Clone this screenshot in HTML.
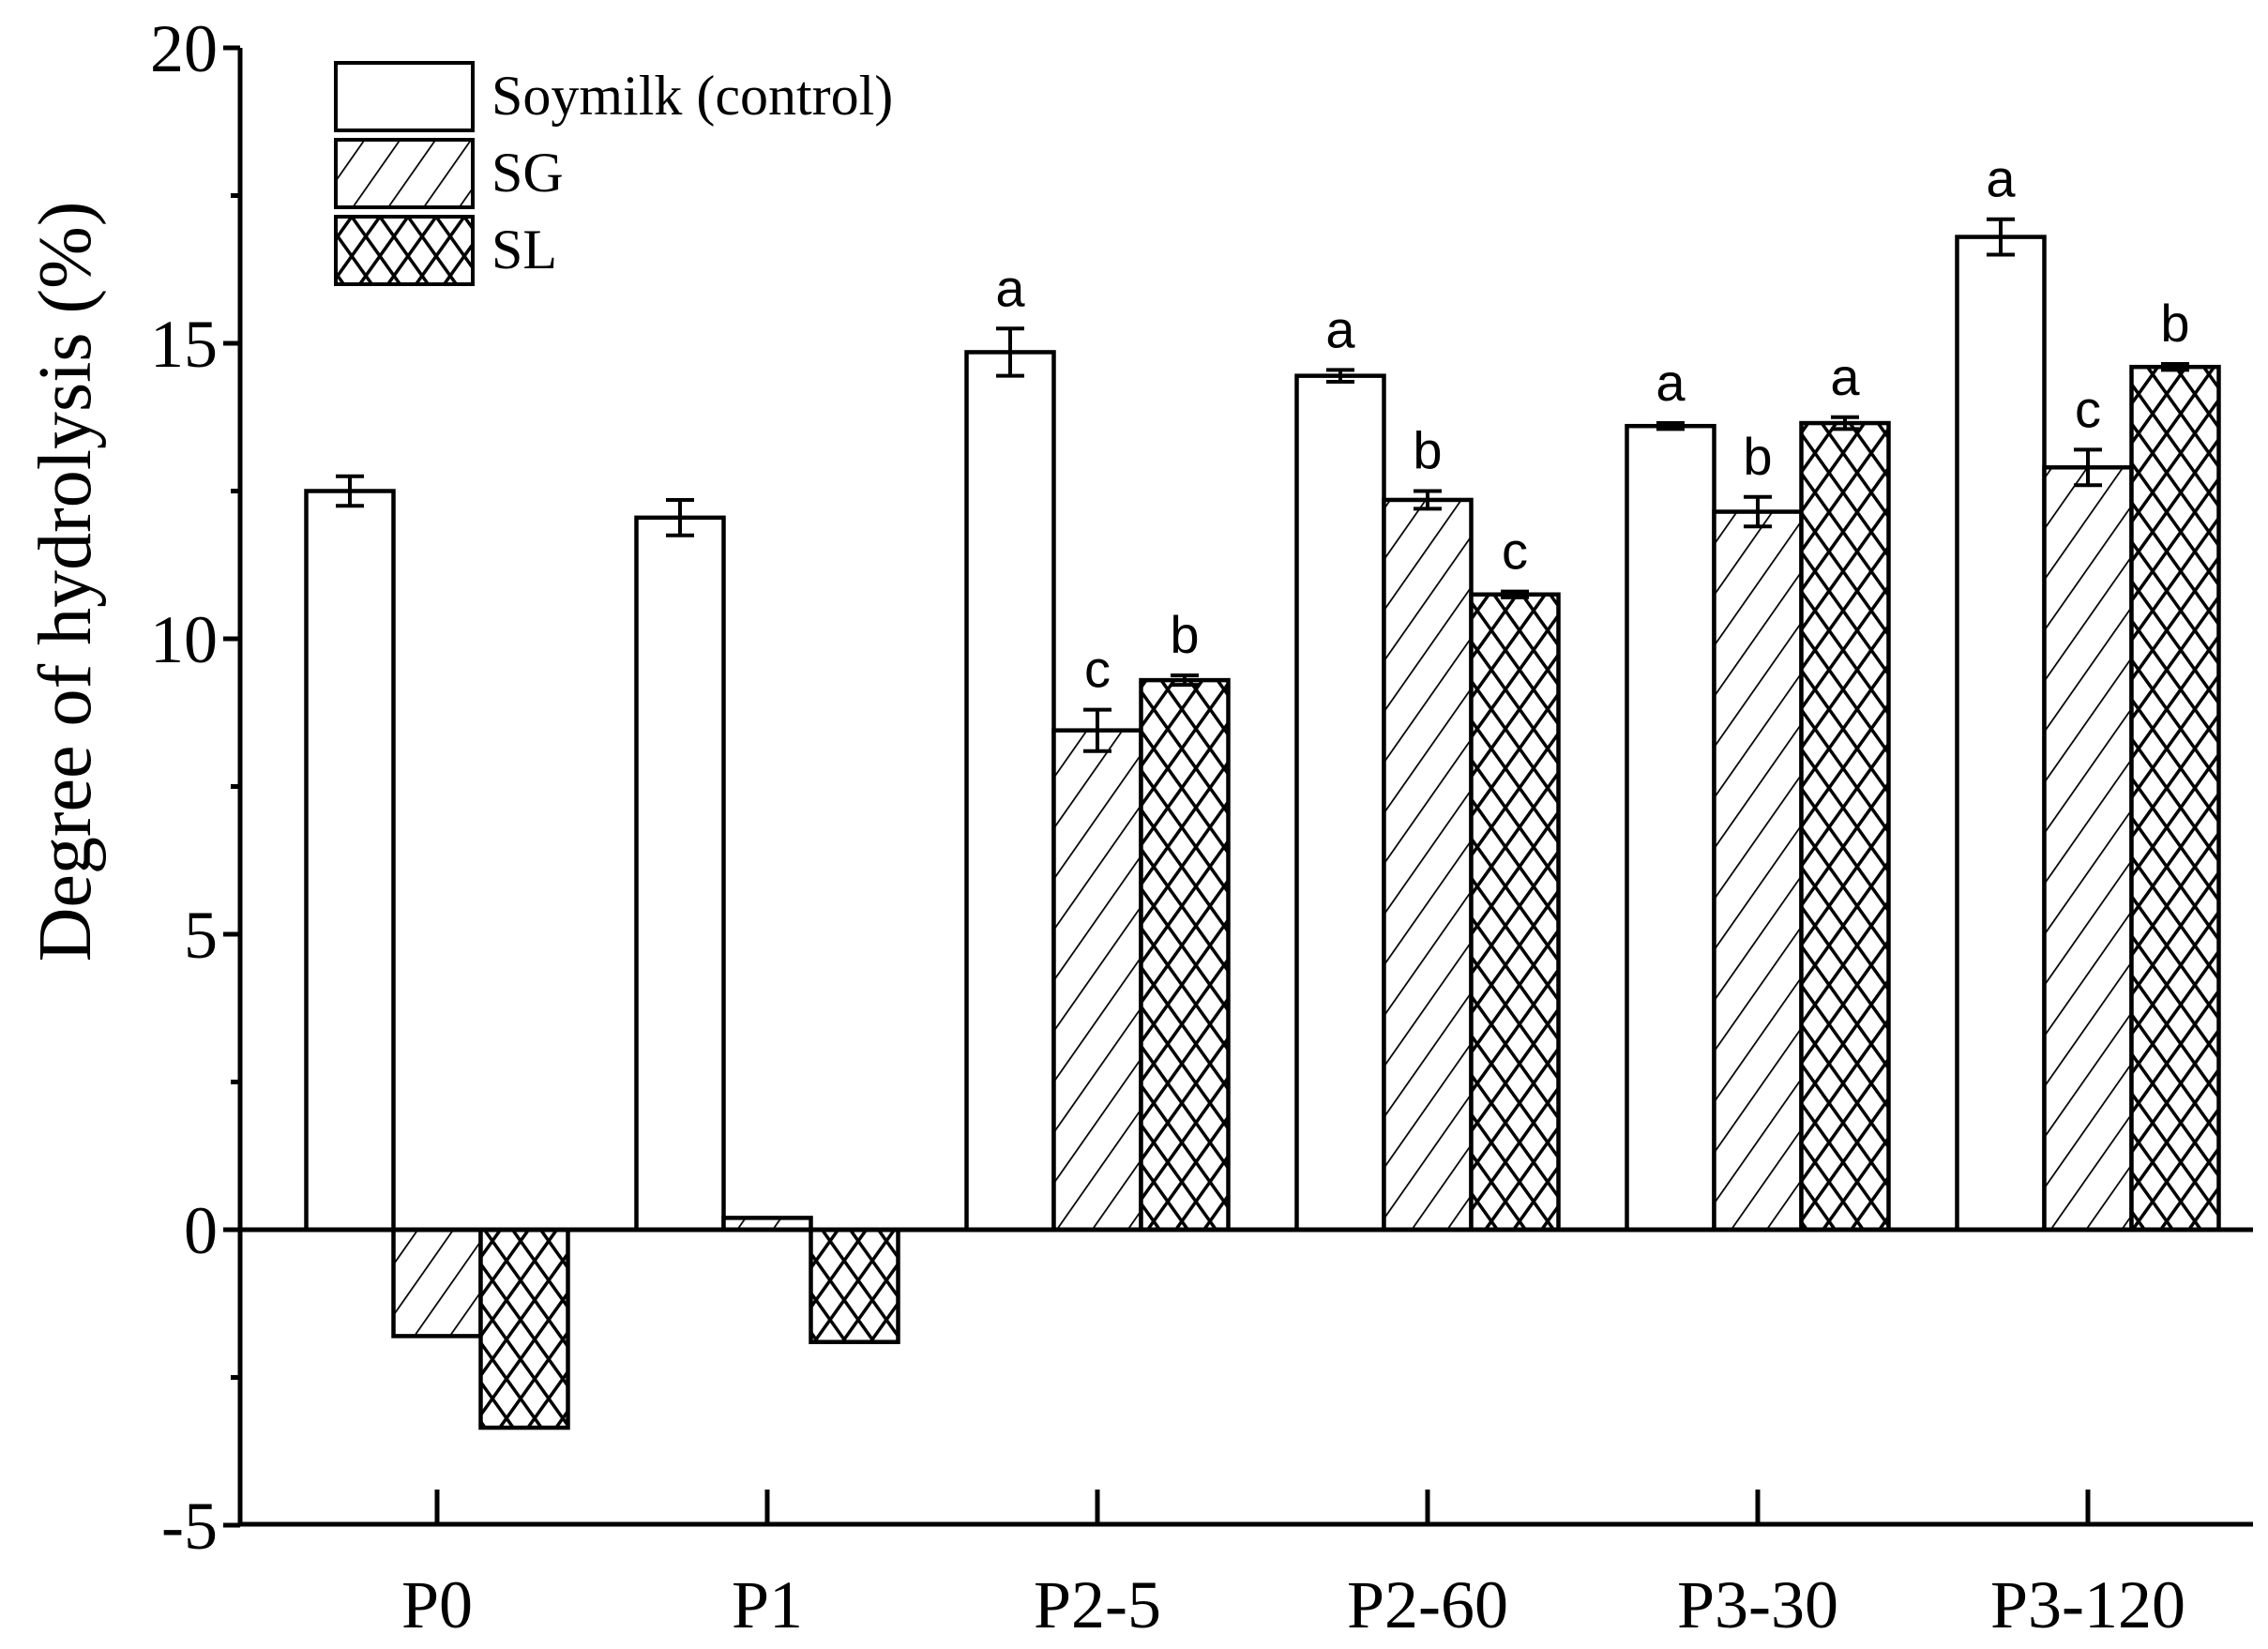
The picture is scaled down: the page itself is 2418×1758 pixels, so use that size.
<!DOCTYPE html>
<html><head><meta charset="utf-8"><style>html,body{margin:0;padding:0;background:#fff}svg{display:block}</style></head>
<body>
<svg id="chart" width="2418" height="1758" viewBox="0 0 2418 1758" xmlns="http://www.w3.org/2000/svg">
<defs>
<pattern id="diag" patternUnits="userSpaceOnUse" width="31" height="31" patternTransform="rotate(35)">
<rect width="31" height="31" fill="#fff"/><line x1="0" y1="0" x2="0" y2="31" stroke="#000" stroke-width="3.5"/></pattern>
<pattern id="cross" patternUnits="userSpaceOnUse" width="30" height="42">
<rect width="30" height="42" fill="#fff"/>
<path d="M0,0 L30,42 M30,0 L0,42 M-15,21 L0,42 M15,-21 L45,21" stroke="#000" stroke-width="3.5" fill="none"/></pattern>
</defs>
<g id="plot"></g>
</svg>
<script>
const categories = ["P0","P1","P2-5","P2-60","P3-30","P3-120"];
const controlValues = [12.5, 12.05, 14.85, 14.45, 13.6, 16.8];
const sgValues = [-1.8, 0.2, 8.45, 12.35, 12.15, 12.9];
const slValues = [-3.35, -1.9, 9.3, 10.75, 13.65, 14.6];
const controlErr = [0.25, 0.3, 0.4, 0.1, 0.05, 0.3];
const sgErr = [0, 0, 0.35, 0.15, 0.25, 0.3];
const slErr = [0, 0, 0.08, 0.05, 0.1, 0.05];
const controlLetters = ["", "", "a", "a", "a", "a"];
const sgLetters = ["", "", "c", "b", "b", "c"];
const slLetters = ["", "", "b", "c", "a", "b"];
const yTicks = [-5, 0, 5, 10, 15, 20];
const yTickLabels = ["-5", "0", "5", "10", "15", "20"];
const seriesNames = ["Soymilk (control)", "SG", "SL"];

const NS = "http://www.w3.org/2000/svg";
const g = document.getElementById("plot");
const X0 = 256, X1 = 2402, Ytop = 51, Ybot = 1625;
function y(v){ return 1311 - v * 63; }
function xc(i){ return 466 + i * 352; }
const BW = 93;
function el(tag, attrs, parent){ const e = document.createElementNS(NS, tag); for (const k in attrs) e.setAttribute(k, attrs[k]); (parent||g).appendChild(e); return e; }

const series = [
  {vals: controlValues, err: controlErr, let: controlLetters, fill: "#fff", off: -1.5, name: "control"},
  {vals: sgValues, err: sgErr, let: sgLetters, fill: "url(#diag)", off: -0.5, name: "sg"},
  {vals: slValues, err: slErr, let: slLetters, fill: "url(#cross)", off: 0.5, name: "sl"}
];
series.forEach(s => {
  categories.forEach((c, i) => {
    const v = s.vals[i];
    const x = xc(i) + s.off * BW;
    const top = Math.min(y(v), y(0)), h = Math.abs(y(v) - y(0));
    const r = el("rect", {x: x, y: top, width: BW, height: h, fill: s.fill, stroke: "#000", "stroke-width": 4.5});
    
    
    const cx = x + BW / 2;
    if (s.err[i] > 0) {
      const e1 = y(v + s.err[i]), e2 = y(v - s.err[i]);
      const eb = el("path", {d: `M${cx},${e1} L${cx},${e2} M${cx-15},${e1} L${cx+15},${e1} M${cx-15},${e2} L${cx+15},${e2}`, stroke: "#000", "stroke-width": 4, fill: "none"});
      
      
    }
    if (s.let[i]) {
      const t = el("text", {x: cx, y: y(v + s.err[i]) - 24, "text-anchor": "middle", "font-family": "Liberation Sans, sans-serif", "font-size": 56});
      t.textContent = s.let[i];
      
      
    }
  });
});

const zl = el("line", {x1: X0, x2: X1, y1: y(0), y2: y(0), stroke: "#000", "stroke-width": 5});


const ya = el("line", {x1: X0, x2: X0, y1: Ytop, y2: Ybot + 2, stroke: "#000", "stroke-width": 5});


const xa = el("line", {x1: X0 - 2, x2: X1, y1: Ybot, y2: Ybot, stroke: "#000", "stroke-width": 5});


yTicks.forEach((t, i) => {
  el("line", {x1: X0 - 18, x2: X0, y1: y(t), y2: y(t), stroke: "#000", "stroke-width": 5});
  if (i < yTicks.length - 1) el("line", {x1: X0 - 10, x2: X0, y1: y(t + 2.5), y2: y(t + 2.5), stroke: "#000", "stroke-width": 5});
  const lb = el("text", {x: X0 - 24, y: y(t) + 25, "text-anchor": "end", "font-family": "Liberation Serif, serif", "font-size": 72});
  lb.textContent = yTickLabels[i];
  
  
});
categories.forEach((c, i) => {
  el("line", {x1: xc(i), x2: xc(i), y1: Ybot - 37, y2: Ybot, stroke: "#000", "stroke-width": 5});
  const lb = el("text", {x: xc(i), y: Ybot + 110, "text-anchor": "middle", "font-family": "Liberation Serif, serif", "font-size": 72});
  lb.textContent = c;
  
  
});
const yt = el("text", {x: 0, y: 0, transform: "translate(96,620) rotate(-90)", "text-anchor": "middle", "font-family": "Liberation Serif, serif", "font-size": 80});
yt.textContent = "Degree of hydrolysis (%)";


const fills = ["#fff", "url(#diag)", "url(#cross)"];
seriesNames.forEach((n, i) => {
  const ly = 67 + i * 82;
  const r = el("rect", {x: 358, y: ly, width: 146, height: 72, fill: fills[i], stroke: "#000", "stroke-width": 4});
  
  
  const t = el("text", {x: 524, y: ly + 55, "font-family": "Liberation Serif, serif", "font-size": 60});
  t.textContent = n;
  
  
});
</script>
</body></html>
